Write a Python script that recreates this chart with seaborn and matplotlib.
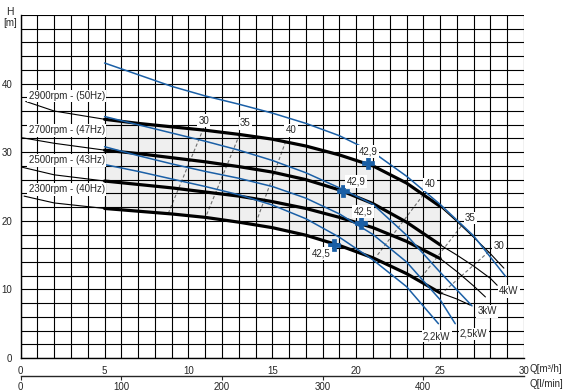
import matplotlib
matplotlib.use("Agg")
import matplotlib.pyplot as plt
import seaborn as sns

sns.set_style("white")
plt.rcParams['font.family'] = ['Liberation Sans', 'DejaVu Sans']

# ---------------- data ----------------
speed_labels = ["2900rpm - (50Hz)", "2700rpm - (47Hz)", "2500rpm - (43Hz)", "2300rpm - (40Hz)"]
speed_label_pos = [(2.75, 38.2), (2.75, 33.2), (2.75, 28.8), (2.75, 24.6)]

# left thin parts (Q m3/h, H m)
left_q = [[0.3, 2.0, 5.0], [0.1, 2.0, 5.0], [0.1, 2.0, 5.0], [0.2, 2.0, 5.0]]
left_h = [[37.4, 36.0, 34.8], [32.1, 31.3, 30.3], [27.8, 26.7, 25.8], [23.6, 22.6, 21.8]]

# thick operating range
thick_q = [5, 7, 9, 11, 13, 15, 17, 19, 21, 23, 25]
h_2900 = [34.8, 34.2, 33.7, 33.2, 32.6, 31.9, 30.9, 29.6, 28.0, 25.5, 22.1]
h_2700 = [30.3, 29.8, 29.2, 28.6, 27.9, 27.1, 26.0, 24.5, 22.5, 19.8, 16.5]
h_2500 = [25.8, 25.3, 24.8, 24.2, 23.6, 22.8, 21.8, 20.5, 19.0, 17.0, 14.5]
h_2300 = [21.8, 21.4, 21.0, 20.5, 19.8, 19.0, 17.9, 16.4, 14.6, 12.3, 9.5]
thick_h = [h_2900, h_2700, h_2500, h_2300]

# right thin continuations
right_q = [[25, 26, 27, 28, 28.8], [25, 26, 27, 28, 28.4], [25, 26, 27, 27.7], [25, 26, 26.8]]
right_h = [[22.1, 19.9, 17.6, 15.2, 13.1], [16.5, 15.0, 13.4, 11.6, 10.6],
           [14.5, 12.6, 10.5, 8.9], [9.5, 8.6, 7.7]]

# motor power lines (blue)
power_labels = ["4kW", "3kW", "2,5kW", "2,2kW"]
power_label_pos = [(29.1, 9.7), (27.8, 6.8), (27.0, 3.5), (24.8, 3.2)]
p4_q = [5, 7, 9, 11, 13, 15, 17, 19, 21, 23, 25, 27, 28.9]
p4_h = [43.0, 41.3, 39.6, 38.2, 37.0, 35.7, 34.2, 32.4, 30.0, 26.5, 22.4, 17.8, 11.9]
p3_q = [5, 7, 9, 11, 13, 15, 17, 19, 21, 23, 25, 26.9]
p3_h = [35.2, 34.0, 32.8, 31.6, 30.3, 28.8, 27.0, 24.8, 22.4, 17.9, 12.5, 7.6]
p25_q = [5, 7, 9, 11, 13, 15, 17, 19, 21, 23, 25, 25.9]
p25_h = [30.8, 29.5, 28.3, 27.2, 26.2, 25.0, 23.3, 21.0, 18.0, 14.0, 8.5, 5.0]
p22_q = [5, 7, 9, 11, 13, 15, 17, 19, 21, 23, 24.9]
p22_h = [28.2, 27.2, 26.1, 25.0, 23.8, 22.3, 20.3, 17.6, 14.3, 10.4, 5.0]
power_q = [p4_q, p3_q, p25_q, p22_q]
power_h = [p4_h, p3_h, p25_h, p22_h]

# efficiency iso-lines (dashed)
eff_labels = ["30", "35", "40", "40", "35", "30"]
eff_label_pos = [(10.9, 34.6), (13.4, 34.2), (16.1, 33.2), (24.4, 25.3), (26.8, 20.4), (28.5, 16.3)]
eff_q = [[10.9, 8.8], [13.05, 11.0], [15.8, 14.05], [24.0, 21.2], [26.25, 23.8], [27.9, 25.0]]
eff_h = [[33.5, 21.1], [32.6, 20.4], [31.6, 19.9], [23.8, 14.8], [19.2, 11.5], [15.5, 9.2]]

# best efficiency points
bep_q = [20.7, 19.2, 20.3, 18.7]
bep_h = [28.4, 24.3, 19.7, 16.5]
bep_labels = ["42,9", "42,9", "42,5", "42,5"]
bep_label_pos = [(20.7, 30.1), (20.0, 25.7), (20.4, 21.4), (17.9, 15.2)]

x_ticks = [0, 5, 10, 15, 20, 25, 30]
y_ticks = [0, 10, 20, 30, 40]
lmin_ticks = [0, 100, 200, 300, 400]

# ---------------- figure ----------------
fig = plt.figure(figsize=(5.67, 3.92), dpi=100)
ax = fig.add_axes([20.7 / 567, 1 - 358 / 392, (524 - 20.7) / 567, (358 - 15) / 392])
ax.set_xlim(0, 30)
ax.set_ylim(0, 50)

BLUE = "#1a5fa6"
FS = 7

# shaded operating region
poly_q = thick_q + thick_q[::-1]
poly_h = h_2900 + h_2300[::-1]
ax.fill(poly_q, poly_h, color="#efefef", zorder=0.5, lw=0)

# grid
ax.set_xticks(x_ticks)
ax.set_xticks(range(0, 31), minor=True)
ax.set_yticks(y_ticks)
ax.set_yticks(range(0, 51, 2), minor=True)
ax.grid(which="both", color="black", lw=0.8, zorder=1)
ax.set_axisbelow(False)
for g in ax.get_xgridlines() + ax.get_ygridlines():
    g.set_zorder(1)
ax.tick_params(which="minor", length=0)
ax.tick_params(which="major", length=4, width=0.8, color="black", labelsize=FS, pad=2)
for s in ["top", "right"]:
    ax.spines[s].set_visible(False)
for s in ["left", "bottom"]:
    ax.spines[s].set_color("black")
    ax.spines[s].set_linewidth(1.0)

# efficiency lines
for q, h in zip(eff_q, eff_h):
    sns.lineplot(x=q, y=h, ax=ax, color="#707070", lw=0.8, linestyle=(0, (3, 2)),
                 sort=False, estimator=None, zorder=2)

# speed curves
for i in range(4):
    sns.lineplot(x=left_q[i], y=left_h[i], ax=ax, color="black", lw=0.8, sort=False,
                 estimator=None, zorder=3)
    sns.lineplot(x=right_q[i], y=right_h[i], ax=ax, color="black", lw=0.8, sort=False,
                 estimator=None, zorder=3)
    sns.lineplot(x=thick_q, y=thick_h[i], ax=ax, color="black", lw=2.3, sort=False,
                 estimator=None, zorder=4)

# power curves
for q, h in zip(power_q, power_h):
    sns.lineplot(x=q, y=h, ax=ax, color=BLUE, lw=1.1, sort=False, estimator=None, zorder=5)

# best efficiency markers
sns.scatterplot(x=bep_q, y=bep_h, ax=ax, marker="P", s=70, color=BLUE, edgecolor=BLUE,
                linewidth=0.5, zorder=6)

box = dict(facecolor="white", edgecolor="none", pad=1.0)
for t, (x, y) in zip(speed_labels, speed_label_pos):
    ax.text(x, y, t, fontsize=FS, ha="center", va="center", bbox=box, zorder=7)
for t, (x, y) in zip(power_labels, power_label_pos):
    ax.text(x, y, t, fontsize=FS, ha="center", va="center", bbox=box, zorder=7)
for t, (x, y) in zip(eff_labels, eff_label_pos):
    ax.text(x, y, t, fontsize=FS, ha="center", va="center", bbox=box, zorder=7)
for t, (x, y) in zip(bep_labels, bep_label_pos):
    ax.text(x, y, t, fontsize=FS, ha="center", va="center", bbox=box, zorder=7)

ax.set_xlabel("")
ax.set_ylabel("")

# axis titles
fig.text(10 / 567, 1 - 12 / 392, "H", fontsize=FS + 0.5, ha="center", va="center")
fig.text(10 / 567, 1 - 23 / 392, "[m]", fontsize=FS, ha="center", va="center")
fig.text(529 / 567, 1 - 369 / 392, "Q[m³/h]", fontsize=FS, ha="left", va="center")
fig.text(529 / 567, 1 - 384 / 392, "Q[l/min]", fontsize=FS, ha="left", va="center")

# secondary l/min axis
sec = ax.secondary_xaxis("bottom", functions=(lambda q: q * 1000 / 60, lambda l: l * 60 / 1000))
sec.spines["bottom"].set_position(("outward", 13))
sec.spines["bottom"].set_linewidth(1.0)
sec.set_xticks(lmin_ticks)
sec.tick_params(length=3, width=0.8, labelsize=FS, pad=1)

fig.savefig("out.png", dpi=100)
